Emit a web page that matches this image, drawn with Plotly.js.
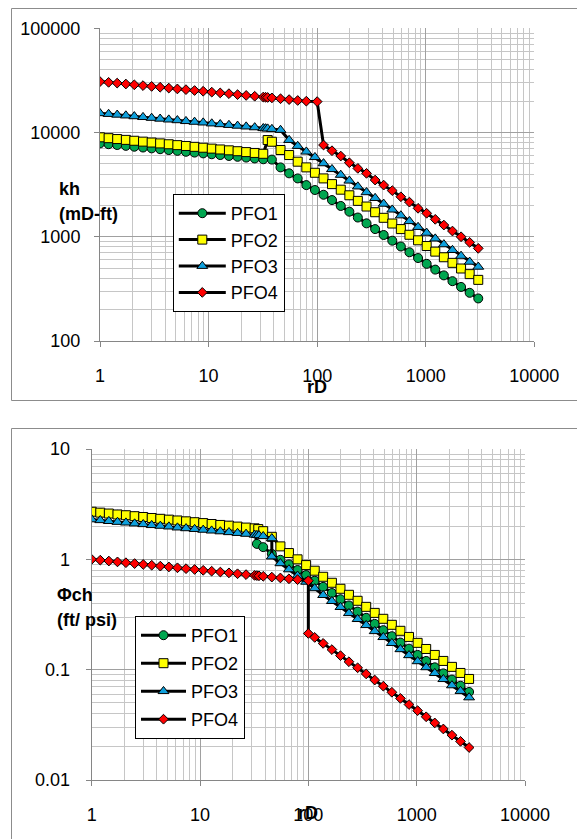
<!DOCTYPE html>
<html>
<head>
<meta charset="utf-8">
<script src="https://cdn.plot.ly/plotly-3.0.1.min.js"></script>
<style>html,body{margin:0;padding:0;background:#fff;}#chart{width:577px;height:839px;}</style>
</head>
<body>
<div id="chart"></div>
<script>
// ---------- DATA ----------
const seriesNames = ["PFO1", "PFO2", "PFO3", "PFO4"];
const rD_early = [1, 1.2, 1.44, 1.73, 2.07, 2.49, 2.99, 3.58, 4.3, 5.16, 6.19, 7.43, 8.92, 10.7, 12.8, 15.4, 18.5, 22.2, 26.6, 31.9];
const rD_late = [114.5, 137, 165, 198, 237, 285, 342, 410, 492, 590, 708, 850, 1020, 1224, 1469, 1763, 2116, 2539, 3047];

// Top chart: kh (mD-ft)
const kh_rD_mid_PFO1 = [38.3, 46, 55.2, 66.2, 79.5, 95.4];
const kh_PFO1 = [7870,7730,7590,7450,7310,7180,7050,6920,6790,6670,6540,6420,6310,6190,6080,5960,5850,5750,5640,5540,
  5500,4630,4060,3630,3130,2810,
  2530,2250,1975,1740,1530,1345,1185,1040,917,807,710,625,550,484,426,375,330,290,256];
const kh_rD_mid_PFO2 = [35, 38.3, 46, 55.2, 66.2, 79.5, 95.4];
const kh_PFO2 = [9000,8830,8660,8500,8340,8180,8020,7870,7720,7570,7430,7290,7150,7010,6880,6750,6620,6490,6370,6250,
  8470,8160,6800,6080,5250,4630,4110,
  3630,3200,2830,2500,2210,1950,1720,1520,1340,1185,1045,925,815,720,636,562,496,438,386];
const kh_rD_mid_PFO3 = [33.5, 35, 38.3, 46, 55.2, 66.2, 79.5, 95.4];
const kh_PFO3 = [15300,15050,14800,14550,14300,14050,13800,13550,13300,13100,12850,12650,12450,12200,12000,11800,11600,11400,11200,11000,
  10950,10900,10800,10570,8470,7420,6550,5800,
  5060,4450,3920,3450,3030,2670,2350,2070,1820,1600,1410,1240,1090,960,845,745,655,575,515];
const kh_rD_mid_PFO4 = [33.5, 35, 38.3, 46, 55.2, 66.2, 79.5, 100];
const kh_PFO4 = [30800,30300,29800,29200,28700,28200,27700,27200,26700,26200,25800,25300,24900,24400,24000,23600,23100,22700,22300,21900,
  21800,21700,21500,21100,20700,20300,20000,19800,
  7590,6690,5950,5130,4530,4060,3500,3130,2770,2420,2150,1875,1680,1470,1295,1135,1000,883,774];

// Bottom chart: phi*ct*h (ft/psi)
const phi_rD_mid_PFO1 = [33.5, 38.3, 46, 55.2, 66.2, 79.5, 95.4];
const phi_PFO1 = [2.68,2.63,2.58,2.53,2.49,2.44,2.40,2.35,2.31,2.27,2.23,2.19,2.15,2.11,2.07,2.03,2.00,1.96,1.92,1.89,
  1.38,1.29,1.12,0.99,0.90,0.80,0.72,
  0.64,0.563,0.495,0.435,0.382,0.336,0.295,0.260,0.228,0.201,0.176,0.155,0.136,0.120,0.105,0.0925,0.0813,0.0715,0.0628];
const phi_rD_mid_PFO2 = [34.5, 38.3, 46, 55.2, 66.2, 79.5, 95.4];
const phi_PFO2 = [2.70,2.65,2.60,2.55,2.51,2.46,2.42,2.37,2.33,2.29,2.25,2.21,2.17,2.13,2.09,2.05,2.02,1.98,1.94,1.91,
  1.88,1.80,1.60,1.31,1.14,1.0,0.887,
  0.789,0.695,0.613,0.541,0.477,0.421,0.371,0.327,0.289,0.255,0.225,0.198,0.175,0.154,0.136,0.120,0.106,0.0934,0.0824];
const phi_rD_mid_PFO3 = [33.5, 35, 38.3, 46, 46, 55.2, 66.2, 79.5, 95.4];
const phi_PFO3 = [2.30,2.26,2.22,2.18,2.15,2.11,2.08,2.04,2.01,1.98,1.94,1.91,1.88,1.85,1.82,1.79,1.76,1.73,1.70,1.67,
  1.66,1.65,1.62,1.55,1.06,0.92,0.81,0.71,0.625,
  0.546,0.474,0.418,0.369,0.325,0.287,0.253,0.223,0.197,0.174,0.153,0.135,0.119,0.105,0.093,0.082,0.072,0.064,0.056];
const phi_rD_mid_PFO4 = [33.5, 35, 38.3, 46, 55.2, 66.2, 79.5, 100, 100];
const phi_PFO4 = [1.0,0.983,0.965,0.948,0.932,0.915,0.899,0.884,0.868,0.853,0.838,0.823,0.809,0.795,0.781,0.767,0.754,0.740,0.727,0.715,
  0.712,0.709,0.702,0.690,0.678,0.666,0.654,0.640,0.213,
  0.196,0.173,0.152,0.134,0.118,0.104,0.0915,0.0805,0.0709,0.0624,0.0549,0.0483,0.0425,0.0374,0.0329,0.0290,0.0255,0.0224,0.0197];

const xTickVals = [1, 10, 100, 1000, 10000];
const xTickText = ["1", "10", "100", "1000", "10000"];
const khTickVals = [100, 1000, 10000, 100000];
const khTickText = ["100", "1000", "10000", "100000"];
const phiTickVals = [0.01, 0.1, 1, 10];
const phiTickText = ["0.01", "0.1", "1", "10"];

// ---------- STYLE ----------
const W = 577, H = 839;
const FONT = "Liberation Sans, Arial, Helvetica, sans-serif";
const markerStyles = [
  {symbol: "circle", color: "#00A650", size: 9},
  {symbol: "square", color: "#FFFF00", size: 9},
  {symbol: "triangle-up", color: "#0FA0DC", size: 9.5},
  {symbol: "diamond", color: "#FF0000", size: 7.5}
];
const px = v => v / W;
const py = v => 1 - v / H;

const khX = [kh_rD_mid_PFO1, kh_rD_mid_PFO2, kh_rD_mid_PFO3, kh_rD_mid_PFO4].map(m => rD_early.concat(m, rD_late));
const khY = [kh_PFO1, kh_PFO2, kh_PFO3, kh_PFO4];
const phiX = [phi_rD_mid_PFO1, phi_rD_mid_PFO2, phi_rD_mid_PFO3, phi_rD_mid_PFO4].map(m => rD_early.concat(m, rD_late));
const phiY = [phi_PFO1, phi_PFO2, phi_PFO3, phi_PFO4];

const traces = [];
seriesNames.forEach((nm, i) => {
  traces.push({
    type: "scatter", mode: "lines+markers", name: nm,
    x: khX[i], y: khY[i], xaxis: "x", yaxis: "y", legend: "legend", legendgroup: "t" + i,
    line: {color: "#000", width: 3},
    marker: {symbol: markerStyles[i].symbol, color: markerStyles[i].color, size: markerStyles[i].size, line: {color: "#000", width: 1}}
  });
});
seriesNames.forEach((nm, i) => {
  traces.push({
    type: "scatter", mode: "lines+markers", name: nm,
    x: phiX[i], y: phiY[i], xaxis: "x2", yaxis: "y2", legend: "legend2", legendgroup: "b" + i,
    line: {color: "#000", width: 3},
    marker: {symbol: markerStyles[i].symbol, color: markerStyles[i].color, size: markerStyles[i].size, line: {color: "#000", width: 1}}
  });
});

function logAxis(domain, range, tv, tt, anchor, standoff) {
  return {
    type: "log", domain: domain, range: range, anchor: anchor,
    tickmode: "array", tickvals: tv, ticktext: tt,
    showline: true, linecolor: "#868686", linewidth: 1,
    ticks: "outside", ticklen: 5, tickcolor: "#868686",
    showgrid: true, gridcolor: "#a0a0a0", gridwidth: 1,
    minor: {dtick: "D1", showgrid: true, gridcolor: "#c6c6c6", gridwidth: 1, ticks: ""},
    zeroline: false, tickfont: {family: FONT, size: 18, color: "#000"},
    ticklabelstandoff: standoff, fixedrange: true
  };
}

const layout = {
  width: W, height: H,
  margin: {l: 0, r: 0, t: 0, b: 0, pad: 0},
  paper_bgcolor: "#fff", plot_bgcolor: "#fff",
  font: {family: FONT, color: "#000"},
  showlegend: true,
  xaxis: logAxis([px(100), px(534.3)], [0, 4], xTickVals, xTickText, "y", 13),
  yaxis: logAxis([1 - 341 / H, 1 - 28.3 / H], [2, 5], khTickVals, khTickText, "x", 10),
  xaxis2: logAxis([px(91.7), px(525)], [0, 4], xTickVals, xTickText, "y2", 13),
  yaxis2: logAxis([1 - 780 / H, 1 - 449 / H], [-2, 1], phiTickVals, phiTickText, "x2", 12),
  legend: {x: px(172.8), y: py(194), xanchor: "left", yanchor: "top", bgcolor: "#fff",
    bordercolor: "#000", borderwidth: 1, font: {family: FONT, size: 18, color: "#000"}, tracegroupgap: 0, itemwidth: 47},
  legend2: {x: px(135), y: py(616), xanchor: "left", yanchor: "top", bgcolor: "#fff",
    bordercolor: "#000", borderwidth: 1, font: {family: FONT, size: 18, color: "#000"}, tracegroupgap: 1.6, itemwidth: 45},
  shapes: [
    {type: "rect", xref: "paper", yref: "paper", x0: px(11.5), x1: 1.01, y0: py(400.5), y1: py(8.5), line: {color: "#8c8c8c", width: 1}, fillcolor: "rgba(0,0,0,0)", layer: "below"},
    {type: "rect", xref: "paper", yref: "paper", x0: px(11.5), x1: 1.01, y0: -0.01, y1: py(428.5), line: {color: "#8c8c8c", width: 1}, fillcolor: "rgba(0,0,0,0)", layer: "below"}
  ],
  annotations: [
    {text: "kh", x: px(57), y: py(177), xref: "paper", yref: "paper", showarrow: false, font: {family: FONT, size: 18, weight: "bold"}},
    {text: "(mD-ft)", x: px(57), y: py(202), xref: "paper", yref: "paper", showarrow: false, font: {family: FONT, size: 18, weight: "bold"}},
    {text: "rD", x: px(317), y: py(387), xref: "paper", yref: "paper", showarrow: false, font: {family: FONT, size: 18, weight: "bold"}},
    {text: "Φch", x: px(55), y: py(607), xref: "paper", yref: "paper", showarrow: false, font: {family: FONT, size: 18, weight: "bold"}},
    {text: "(ft/ psi)", x: px(55), y: py(632), xref: "paper", yref: "paper", showarrow: false, font: {family: FONT, size: 18, weight: "bold"}},
    {text: "rD", x: px(308.3), y: py(825), xref: "paper", yref: "paper", showarrow: false, font: {family: FONT, size: 18, weight: "bold"}}
  ]
};

Plotly.newPlot("chart", traces, layout, {staticPlot: true, displayModeBar: false});
</script>
</body>
</html>
